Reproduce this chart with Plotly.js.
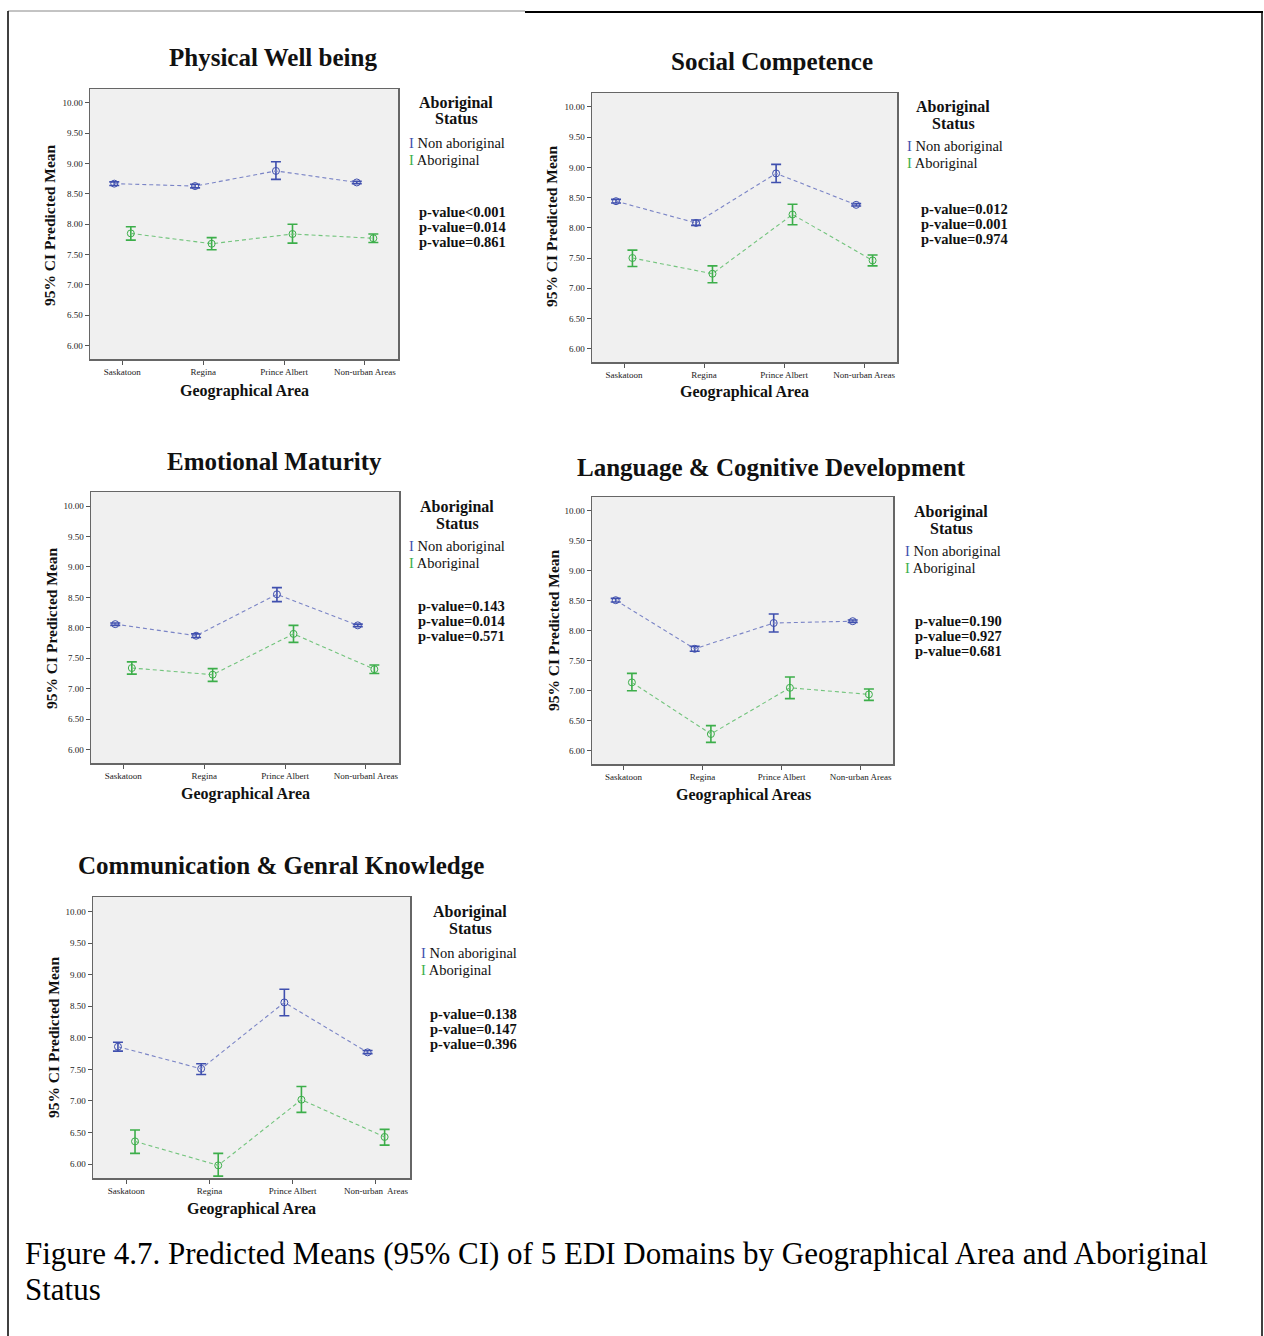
<!DOCTYPE html>
<html><head><meta charset="utf-8">
<script src="https://cdn.plot.ly/plotly-3.0.1.min.js"></script>
<style>html,body{margin:0;padding:0;background:#fff}#chart{width:1264px;height:1336px}</style>
</head><body><div id="chart"></div>
<script>
// ---------- data ----------
const categories = ["Saskatoon", "Regina", "Prince Albert", "Non-urban Areas"];
const categoriesEM = ["Saskatoon", "Regina", "Prince Albert", "Non-urbanl Areas"];
const categoriesCG = ["Saskatoon", "Regina", "Prince Albert", "Non-urban  Areas"];
const groupNames = ["Non aboriginal", "Aboriginal"];
const panelTitles = ["Physical Well being", "Social Competence", "Emotional Maturity",
  "Language & Cognitive Development", "Communication & Genral Knowledge"];
const xTitles = ["Geographical Area", "Geographical Area", "Geographical Area",
  "Geographical Areas", "Geographical Area"];
const yTitle = "95% CI Predicted Mean";
const yTickVals = [6.0, 6.5, 7.0, 7.5, 8.0, 8.5, 9.0, 9.5, 10.0];

// Physical Well being
const pwbNonMean = [8.67, 8.63, 8.88, 8.69];
const pwbNonLow  = [8.64, 8.60, 8.74, 8.67];
const pwbNonHigh = [8.70, 8.66, 9.03, 8.71];
const pwbAbMean  = [7.85, 7.68, 7.84, 7.77];
const pwbAbLow   = [7.74, 7.58, 7.69, 7.70];
const pwbAbHigh  = [7.96, 7.78, 8.00, 7.84];
const pwbP = ["p-value<0.001", "p-value=0.014", "p-value=0.861"];

// Social Competence
const scNonMean = [8.44, 8.08, 8.90, 8.38];
const scNonLow  = [8.41, 8.04, 8.75, 8.36];
const scNonHigh = [8.47, 8.13, 9.05, 8.40];
const scAbMean  = [7.50, 7.24, 8.22, 7.46];
const scAbLow   = [7.36, 7.09, 8.05, 7.37];
const scAbHigh  = [7.63, 7.37, 8.39, 7.55];
const scP = ["p-value=0.012", "p-value=0.001", "p-value=0.974"];

// Emotional Maturity
const emNonMean = [8.06, 7.87, 8.55, 8.04];
const emNonLow  = [8.04, 7.84, 8.43, 8.02];
const emNonHigh = [8.08, 7.90, 8.66, 8.06];
const emAbMean  = [7.34, 7.23, 7.90, 7.32];
const emAbLow   = [7.24, 7.12, 7.76, 7.25];
const emAbHigh  = [7.44, 7.33, 8.04, 7.39];
const emP = ["p-value=0.143", "p-value=0.014", "p-value=0.571"];

// Language & Cognitive Development
const lcNonMean = [8.51, 7.70, 8.13, 8.16];
const lcNonLow  = [8.48, 7.66, 7.98, 8.14];
const lcNonHigh = [8.54, 7.74, 8.28, 8.18];
const lcAbMean  = [7.14, 6.28, 7.05, 6.94];
const lcAbLow   = [7.00, 6.14, 6.87, 6.84];
const lcAbHigh  = [7.29, 6.42, 7.23, 7.03];
const lcP = ["p-value=0.190", "p-value=0.927", "p-value=0.681"];

// Communication & General Knowledge
const cgNonMean = [7.86, 7.51, 8.56, 7.77];
const cgNonLow  = [7.79, 7.42, 8.35, 7.75];
const cgNonHigh = [7.93, 7.59, 8.77, 7.80];
const cgAbMean  = [6.36, 5.98, 7.02, 6.43];
const cgAbLow   = [6.17, 5.81, 6.82, 6.30];
const cgAbHigh  = [6.54, 6.17, 7.23, 6.55];
const cgP = ["p-value=0.138", "p-value=0.147", "p-value=0.396"];

const captionLine1 = "Figure 4.7. Predicted Means (95% CI) of 5 EDI Domains by Geographical Area and Aboriginal";
const captionLine2 = "Status";

// ---------- layout helpers ----------
const W = 1264, H = 1336;
const px = x => x / W;
const py = y => 1 - y / H;
const SERIF = "Liberation Serif, Times New Roman, serif";
const BLUE = "#3f4fae", BLUE_LINE = "#7a84c6";
const GREEN = "#3cae4a", GREEN_LINE = "#72c47c";

const panels = [
  { cats: categories, non: [pwbNonMean, pwbNonLow, pwbNonHigh], ab: [pwbAbMean, pwbAbLow, pwbAbHigh], p: pwbP,
    box: [90, 398, 89, 359], title: [273, 58], xt: [244, 391], yt: [50, 225], leg: [456, 103, 407, 143, 417, 212] },
  { cats: categories, non: [scNonMean, scNonLow, scNonHigh], ab: [scAbMean, scAbLow, scAbHigh], p: scP,
    box: [592, 897, 93, 362], title: [772, 62], xt: [744, 392], yt: [552, 226], leg: [953, 107, 905, 146, 919, 209] },
  { cats: categoriesEM, non: [emNonMean, emNonLow, emNonHigh], ab: [emAbMean, emAbLow, emAbHigh], p: emP,
    box: [91, 399, 492, 763], title: [274, 461], xt: [245, 794], yt: [51, 628], leg: [457, 507, 407, 546, 416, 606] },
  { cats: categories, non: [lcNonMean, lcNonLow, lcNonHigh], ab: [lcAbMean, lcAbLow, lcAbHigh], p: lcP,
    box: [592, 893, 497, 764], title: [771, 467], xt: [743, 795], yt: [553, 630], leg: [951, 512, 903, 551, 913, 621] },
  { cats: categoriesCG, non: [cgNonMean, cgNonLow, cgNonHigh], ab: [cgAbMean, cgAbLow, cgAbHigh], p: cgP,
    box: [93, 410, 897, 1178], title: [281, 865], xt: [251, 1209], yt: [53, 1037], leg: [470, 912, 419, 953, 428, 1014] }
];

const traces = [];
const annotations = [];
const layout = {
  width: W, height: H,
  margin: { l: 0, r: 0, t: 0, b: 0 },
  paper_bgcolor: "#ffffff",
  showlegend: false,
  font: { family: SERIF, color: "#222" },
  annotations: annotations,
  shapes: [
    { type: "line", xref: "paper", yref: "paper", x0: px(8), x1: px(525), y0: py(11), y1: py(11), line: { color: "#888", width: 1 } },
    { type: "line", xref: "paper", yref: "paper", x0: px(525), x1: px(1263), y0: py(12), y1: py(12), line: { color: "#000", width: 2 } },
    { type: "line", xref: "paper", yref: "paper", x0: px(8), x1: px(8), y0: py(11), y1: 0, line: { color: "#000", width: 1.5 } },
    { type: "line", xref: "paper", yref: "paper", x0: px(1262), x1: px(1262), y0: py(12), y1: 0, line: { color: "#000", width: 1.5 } }
  ]
};

function addText(text, x, y, size, opts) {
  annotations.push(Object.assign({
    text: text, xref: "paper", yref: "paper", x: px(x), y: py(y),
    showarrow: false, xanchor: "center", yanchor: "middle",
    font: { family: SERIF, size: size, color: "#111" }
  }, opts || {}));
}

panels.forEach((pn, i) => {
  const n = i + 1;
  const xa = "x" + n, ya = "y" + n;
  const series = [
    { d: pn.non, name: groupNames[0], col: BLUE, lcol: BLUE_LINE, off: -0.1 },
    { d: pn.ab, name: groupNames[1], col: GREEN, lcol: GREEN_LINE, off: 0.105 }
  ];
  series.forEach(s => {
    const mean = s.d[0], low = s.d[1], high = s.d[2];
    traces.push({
      type: "scatter", mode: "lines+markers", name: s.name,
      xaxis: xa, yaxis: ya,
      x: pn.cats.map((c, k) => k + s.off),
      y: mean,
      text: pn.cats,
      line: { color: s.lcol, width: 1.1, dash: "4px,3px" },
      marker: { symbol: "circle-open", size: 7, color: s.col, line: { width: 1, color: s.col } },
      error_y: { type: "data", symmetric: false,
        array: high.map((h, k) => h - mean[k]),
        arrayminus: low.map((l, k) => mean[k] - l),
        color: s.col, thickness: 1.6, width: 5 },
      cliponaxis: true
    });
  });
  const [x0, x1, y0, y1] = pn.box;
  layout["xaxis" + n] = {
    domain: [px(x0), px(x1)], anchor: ya, range: [-0.4, 3.41],
    tickmode: "array", tickvals: [0, 1, 2, 3], ticktext: pn.cats,
    ticks: "outside", ticklen: 4, tickcolor: "#555", tickfont: { family: SERIF, size: 9, color: "#222" },
    showgrid: false, zeroline: false, showline: true, linecolor: "#666", linewidth: 1.5, mirror: true,
    fixedrange: true
  };
  layout["yaxis" + n] = {
    domain: [py(y1), py(y0)], anchor: xa, range: [5.78, 10.23],
    tickmode: "array", tickvals: yTickVals, ticktext: yTickVals.map(v => v.toFixed(2)),
    ticks: "outside", ticklen: 4, tickcolor: "#555", tickfont: { family: SERIF, size: 9, color: "#222" },
    showgrid: false, zeroline: false, showline: true, linecolor: "#666", linewidth: 1.5, mirror: true,
    fixedrange: true
  };
  layout.shapes.push({ type: "rect", xref: "paper", yref: "paper", layer: "below",
    x0: px(x0), x1: px(x1), y0: py(y1), y1: py(y0), fillcolor: "#f0f0f0", line: { width: 0 } });

  addText("<b>" + panelTitles[i] + "</b>", pn.title[0], pn.title[1], 25);
  addText("<b>" + xTitles[i] + "</b>", pn.xt[0], pn.xt[1], 16);
  addText("<b>" + yTitle + "</b>", pn.yt[0], pn.yt[1], 15.5, { textangle: -90 });
  const L = pn.leg;
  addText("<b>Aboriginal</b>", L[0], L[1], 16);
  addText("<b>Status</b>", L[0], L[1] + 16, 16);
  addText('<span style="color:' + BLUE + '">I</span> ' + groupNames[0], L[2], L[3], 14.5, { xanchor: "left" });
  addText('<span style="color:' + GREEN + '">I</span> ' + groupNames[1], L[2], L[3] + 17, 14.5, { xanchor: "left" });
  pn.p.forEach((t, k) => addText("<b>" + t + "</b>", L[4], L[5] + k * 15, 14.5, { xanchor: "left" }));
});

addText(captionLine1, 23, 1253, 31, { xanchor: "left", font: { family: SERIF, size: 31, color: "#000" } });
addText(captionLine2, 23, 1289, 31, { xanchor: "left", font: { family: SERIF, size: 31, color: "#000" } });

Plotly.newPlot("chart", traces, layout, { staticPlot: true, displayModeBar: false });
</script>
</body></html>
